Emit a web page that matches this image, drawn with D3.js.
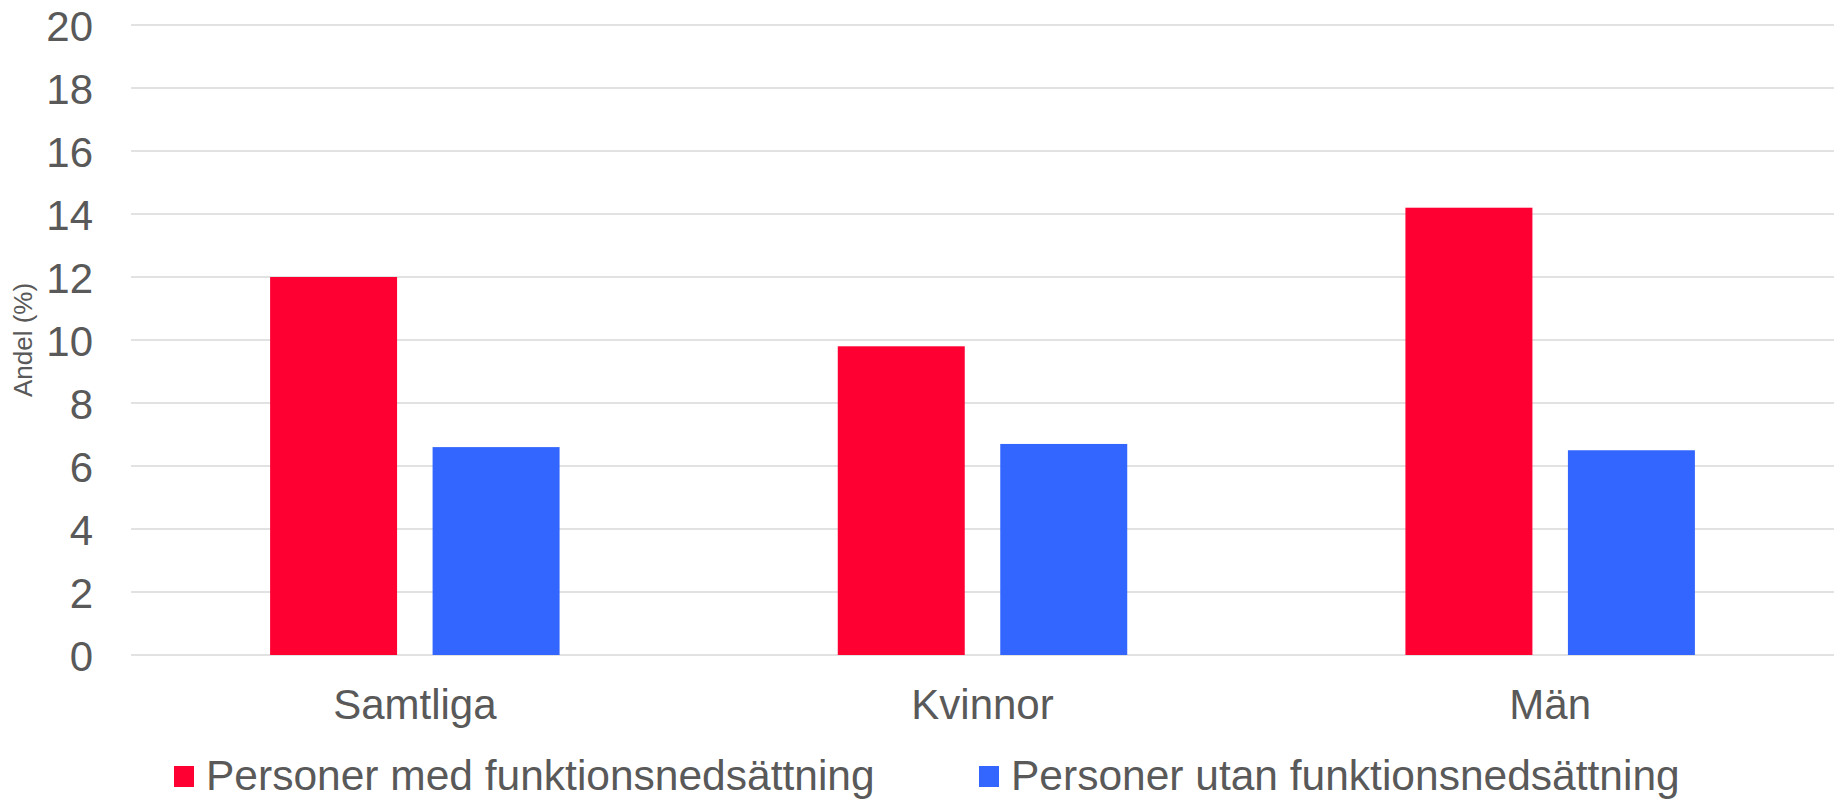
<!DOCTYPE html>
<html>
<head>
<meta charset="utf-8">
<script src="https://cdn.jsdelivr.net/npm/d3@7"></script>
<style>
  html, body { margin: 0; padding: 0; background: #fff; }
  svg { display: block; font-family: "Liberation Sans", Arial, sans-serif; }
</style>
</head>
<body>
<svg id="chart" width="1843" height="806"></svg>
<script>
const categories = ["Samtliga", "Kvinnor", "Män"];
const seriesNames = ["Personer med funktionsnedsättning", "Personer utan funktionsnedsättning"];
const withDisability = [12.0, 9.8, 14.2];
const withoutDisability = [6.6, 6.7, 6.5];
const yTicks = [0, 2, 4, 6, 8, 10, 12, 14, 16, 18, 20];
const colors = ["#ff0033", "#3366ff"];
const yTitle = "Andel (%)";

const values = [withDisability, withoutDisability];
const rows = categories.map((c, i) => ({
  cat: c,
  vals: seriesNames.map((s, j) => ({ series: s, idx: j, value: values[j][i] }))
}));

const svg = d3.select("#chart");
const plotLeft = 131, plotRight = 1834, plotTop = 25, plotBottom = 655;

const x0 = d3.scaleBand().domain(categories).range([plotLeft, plotRight]).paddingInner(0).paddingOuter(0);
const x1 = d3.scaleBand().domain(seriesNames).range([0, x0.bandwidth()])
  .paddingInner(0.2185).paddingOuter(0.856);
const y = d3.scaleLinear().domain([0, 20]).range([plotBottom, plotTop]);

const textColor = "#595959";

// gridlines
svg.append("g")
  .selectAll("line")
  .data(yTicks)
  .join("line")
  .attr("x1", plotLeft).attr("x2", plotRight)
  .attr("y1", d => y(d)).attr("y2", d => y(d))
  .attr("stroke", "#d9d9d9").attr("stroke-width", 1.6);

// y axis labels
const yAxis = d3.axisLeft(y).tickValues(yTicks).tickSize(0).tickPadding(0);
const gy = svg.append("g").attr("transform", `translate(93,0)`).call(yAxis);
gy.select(".domain").remove();
gy.selectAll("text")
  .attr("fill", textColor)
  .style("font-size", "42px")
  .style("font-family", "'Liberation Sans', Arial, sans-serif")
  .attr("dy", "0.36em");

// bars
const groups = svg.append("g").selectAll("g")
  .data(rows).join("g")
  .attr("transform", d => `translate(${x0(d.cat)},0)`);
groups.selectAll("rect")
  .data(d => d.vals).join("rect")
  .attr("x", d => x1(d.series))
  .attr("width", x1.bandwidth())
  .attr("y", d => y(d.value))
  .attr("height", d => y(0) - y(d.value))
  .attr("fill", d => colors[d.idx]);

// x axis labels
const xAxis = d3.axisBottom(x0).tickSize(0).tickPadding(0);
const gx = svg.append("g").attr("transform", `translate(0,${plotBottom})`).call(xAxis);
gx.select(".domain").remove();
gx.selectAll("text")
  .attr("fill", textColor)
  .style("font-size", "42px")
  .style("font-family", "'Liberation Sans', Arial, sans-serif")
  .attr("y", 64).attr("dy", 0);

// y title
svg.append("text")
  .attr("transform", "translate(32,340) rotate(-90)")
  .attr("text-anchor", "middle")
  .attr("fill", textColor)
  .style("font-size", "26px")
  .text(yTitle);

// legend
const legendX = [174, 979];
const legend = svg.append("g").selectAll("g")
  .data(seriesNames).join("g")
  .attr("transform", (d, i) => `translate(${legendX[i]},0)`);
legend.append("rect")
  .attr("x", 0).attr("y", 766).attr("width", 20).attr("height", 21)
  .attr("fill", (d, i) => colors[i]);
legend.append("text")
  .attr("x", 32).attr("y", 790)
  .attr("fill", textColor)
  .style("font-size", "42.5px")
  .text(d => d);
</script>
</body>
</html>
